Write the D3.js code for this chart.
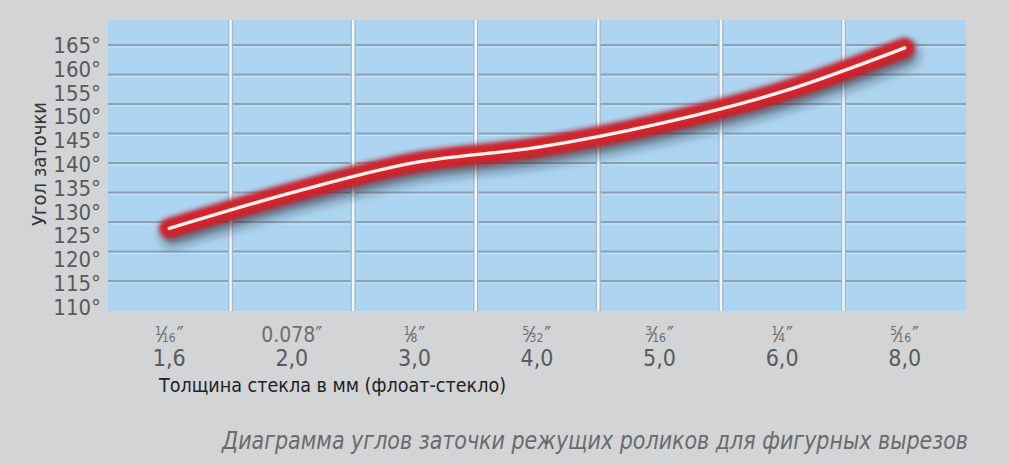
<!DOCTYPE html>
<html><head><meta charset="utf-8">
<script src="https://cdn.jsdelivr.net/npm/d3@7"></script>
<style>
html,body{margin:0;padding:0;background:#d3d4d6;}
svg{display:block;}
text{font-family:"Liberation Sans Narrow","DejaVu Sans Condensed","Roboto",sans-serif;}
</style></head>
<body>
<svg id="c" width="1009" height="465"></svg>
<script>
const thicknessMM = ["1,6","2,0","3,0","4,0","5,0","6,0","8,0"];
const thicknessIn = ["1/16","0.078","1/8","5/32","3/16","1/4","5/16"];
const angles = [126.5, 134.0, 140.3, 143.5, 148.5, 155.2, 164.4];
const yTicks = [110,115,120,125,130,135,140,145,150,155,160,165];
const yTitle = "Угол заточки";
const xTitle = "Толщина стекла в мм (флоат-стекло)";
const caption = "Диаграмма углов заточки режущих роликов для фигурных вырезов";

const svg = d3.select("#c");
const plot = {l:108, r:966, t:20, b:311};

const x = d3.scaleBand().domain(thicknessMM).range([plot.l, plot.r]).padding(0);
const y = d3.scaleLinear().domain([110,165]).range([307,45]);
const tile = d3.scaleLinear().domain([0,9]).range([45, 310.5]);

const defs = svg.append("defs");
function blur(id, sd){
  defs.append("filter").attr("id",id).attr("x","-20%").attr("y","-60%").attr("width","140%").attr("height","220%")
    .append("feGaussianBlur").attr("stdDeviation",sd);
}
blur("shadow",6); blur("soft",2.4); blur("soft2",0.7);

// plot background
svg.append("rect").attr("x",plot.l).attr("y",plot.t).attr("width",plot.r-plot.l).attr("height",plot.b-plot.t)
  .attr("fill","#add5f2");

// horizontal tile lines
const hl = svg.append("g");
d3.range(0,9).forEach(k=>{
  const yy = tile(k);
  hl.append("line").attr("x1",plot.l).attr("x2",plot.r).attr("y1",yy).attr("y2",yy)
    .attr("stroke","#8ba1b5").attr("stroke-width",2);
  hl.append("line").attr("x1",plot.l).attr("x2",plot.r).attr("y1",yy+2).attr("y2",yy+2)
    .attr("stroke","#c6e3f8").attr("stroke-width",1.2);
});
// vertical separators
const vl = svg.append("g");
thicknessMM.slice(1).forEach(c=>{
  const xx = x(c);
  vl.append("line").attr("x1",xx).attr("x2",xx).attr("y1",plot.t).attr("y2",plot.b)
    .attr("stroke","#a3b9cb").attr("stroke-width",5);
  vl.append("line").attr("x1",xx).attr("x2",xx).attr("y1",plot.t).attr("y2",plot.b)
    .attr("stroke","#f4f8fb").attr("stroke-width",2.4);
});

// y tick labels
svg.append("g").selectAll("text").data(yTicks).join("text")
  .attr("x",101).attr("y",d=>y(d)).attr("dy","0.36em")
  .attr("text-anchor","end").attr("font-size",22).attr("fill","#5a5a5a")
  .text(d=>d+"°");

// y title
svg.append("text").attr("transform","translate(46,164) rotate(-90)")
  .attr("text-anchor","middle").attr("font-size",20).attr("fill","#333").text(yTitle);

// x labels
const cx = d => x(d) + x.bandwidth()/2;
const xl = svg.append("g");
thicknessMM.forEach((c,i)=>{
  const lab = thicknessIn[i];
  const t = xl.append("text").attr("x",cx(c)).attr("y",342).attr("text-anchor","middle").attr("fill","#6e6e6e");
  if (lab.includes("/")) {
    const [n,d] = lab.split("/");
    t.attr("font-size",21);
    t.append("tspan").attr("font-size",12).attr("dy",-7).text(n);
    t.append("tspan").attr("font-size",21).attr("dy",7).attr("dx",-1).text("⁄");
    t.append("tspan").attr("font-size",12).attr("dx",-2).text(d);
    t.append("tspan").attr("font-size",21).attr("dx",1).text("″");
  } else {
    t.attr("font-size",21).text(lab+"″");
  }
  xl.append("text").attr("x",cx(c)).attr("y",366).attr("text-anchor","middle")
    .attr("font-size",23).attr("fill","#5a5a5a").text(c);
});

// x title
svg.append("text").attr("x",159).attr("y",392).attr("font-size",20).attr("fill","#222")
  .attr("textLength",347).attr("lengthAdjust","spacingAndGlyphs").text(xTitle);

// caption
svg.append("text").attr("x",222).attr("y",449).attr("font-size",24).attr("fill","#6a6a6a")
  .attr("font-style","italic").attr("textLength",746).attr("lengthAdjust","spacingAndGlyphs").text(caption);

// line
const line = d3.line().x((d,i)=>cx(thicknessMM[i])).y(d=>y(d)).curve(d3.curveCatmullRom.alpha(0.5));
const lg = svg.append("g");
lg.append("path").attr("d",line(angles)).attr("fill","none").attr("stroke","#1f1a2a").attr("stroke-opacity",0.6)
  .attr("stroke-width",20).attr("stroke-linecap","round").attr("transform","translate(3,7)").attr("filter","url(#shadow)");
lg.append("path").attr("d",line(angles)).attr("fill","none").attr("stroke","#c81e27")
  .attr("stroke-width",20).attr("stroke-linecap","round").attr("filter","url(#soft)");
lg.append("path").attr("d",line(angles)).attr("fill","none").attr("stroke","#d9262d")
  .attr("stroke-width",11).attr("stroke-linecap","round").attr("filter","url(#soft)");
lg.append("path").attr("d",line(angles)).attr("fill","none").attr("stroke","#fff3ee")
  .attr("stroke-width",3.4).attr("stroke-linecap","round").attr("filter","url(#soft2)");
</script>
</body></html>
